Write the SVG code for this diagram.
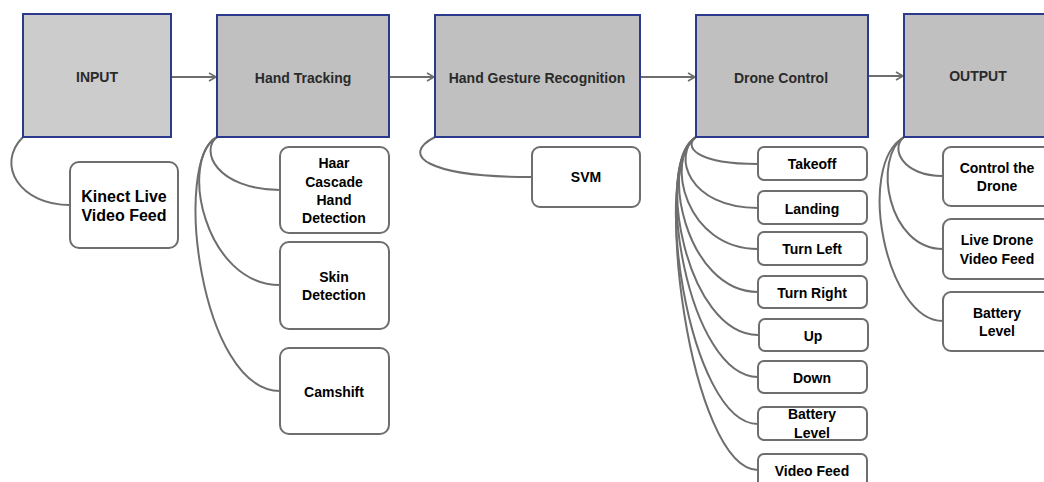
<svg xmlns="http://www.w3.org/2000/svg" width="1044" height="482" viewBox="0 0 1044 482">
<style>
.main{stroke:#2b3a8c;stroke-width:2}
.sub{fill:#fff;stroke:#6e6e6e;stroke-width:2}
.mt{font-family:"Liberation Sans",Arial,sans-serif;font-size:14px;font-weight:bold;fill:#2a2a2a;text-anchor:middle}
.st{font-family:"Liberation Sans",Arial,sans-serif;font-size:14px;font-weight:bold;fill:#000;text-anchor:middle}
.big{font-size:16px}
.c{fill:none;stroke:#6e6e6e;stroke-width:2}
</style>
<defs>
<marker id="arr" markerWidth="10" markerHeight="10" refX="8" refY="5" orient="auto" markerUnits="userSpaceOnUse">
<path d="M1,1 L8,5 L1,9" fill="none" stroke="#6e6e6e" stroke-width="1.6"/>
</marker>
</defs>
<rect width="1044" height="482" fill="#fff"/>
<g id="connectors">
<path class="c" d="M171,77 L216,77" marker-end="url(#arr)"/>
<path class="c" d="M389,77 L434,77" marker-end="url(#arr)"/>
<path class="c" d="M640,77 L695,77" marker-end="url(#arr)"/>
<path class="c" d="M868,76 L903,76" marker-end="url(#arr)"/>
<path class="c" d="M23,137 C-5,165 20,205 70,205"/>
<path class="c" d="M217,137 C200,150 215,189 280,190"/>
<path class="c" d="M217,137 C178,160 205,285 280,285"/>
<path class="c" d="M217,137 C172,160 200,391 280,391"/>
<path class="c" d="M435,137 C400,155 425,177 532,177"/>
<path class="c" d="M696,137 C684,146 694,164 758,164"/>
<path class="c" d="M696,137 C672,155 688,208 758,208"/>
<path class="c" d="M696,137 C664,160 686,249 758,249"/>
<path class="c" d="M696,137 C658,162 686,292 758,292"/>
<path class="c" d="M696,137 C654,163 686,335 758,335"/>
<path class="c" d="M696,137 C652,164 688,377 758,377"/>
<path class="c" d="M696,137 C650,165 688,424 758,424"/>
<path class="c" d="M696,137 C650,165 690,470 758,470"/>
<path class="c" d="M904,137 C890,148 902,176 943,176"/>
<path class="c" d="M904,137 C872,158 888,249 943,249"/>
<path class="c" d="M904,137 C855,165 886,321 943,321"/>
</g>
<g id="input"><rect class="main" x="23" y="14" width="148" height="123" fill="#cccccc"/><text class="mt" x="97" y="82">INPUT</text></g>
<g id="hand-tracking"><rect class="main" x="217" y="15" width="172" height="122" fill="#c0c0c0"/><text class="mt" x="303" y="83">Hand Tracking</text></g>
<g id="hand-gesture"><rect class="main" x="435" y="15" width="205" height="122" fill="#c0c0c0"/><text class="mt" x="537" y="83">Hand Gesture Recognition</text></g>
<g id="drone-control"><rect class="main" x="696" y="15" width="172" height="122" fill="#c0c0c0"/><text class="mt" x="781" y="83">Drone Control</text></g>
<g id="output"><rect class="main" x="904" y="14" width="172" height="123" fill="#c0c0c0"/><text class="mt" x="978" y="81">OUTPUT</text></g>
<g id="kinect"><rect class="sub" x="70" y="162" width="108" height="86" rx="9"/><text class="st big" x="124" y="202">Kinect Live</text><text class="st big" x="124" y="221">Video Feed</text></g>
<g id="haar"><rect class="sub" x="280" y="147" width="109" height="86" rx="9"/><text class="st" x="334" y="168">Haar</text><text class="st" x="334" y="187">Cascade</text><text class="st" x="334" y="205">Hand</text><text class="st" x="334" y="223">Detection</text></g>
<g id="skin"><rect class="sub" x="280" y="242" width="109" height="87" rx="9"/><text class="st" x="334" y="282">Skin</text><text class="st" x="334" y="300">Detection</text></g>
<g id="camshift"><rect class="sub" x="280" y="348" width="109" height="86" rx="9"/><text class="st" x="334" y="397">Camshift</text></g>
<g id="svm"><rect class="sub" x="532" y="147" width="108" height="60" rx="8"/><text class="st" x="586" y="182">SVM</text></g>
<g id="takeoff"><rect class="sub" x="758" y="147" width="109" height="33" rx="6"/><text class="st" x="812" y="169">Takeoff</text></g>
<g id="landing"><rect class="sub" x="758" y="191" width="109" height="33" rx="6"/><text class="st" x="812" y="214">Landing</text></g>
<g id="turn-left"><rect class="sub" x="758" y="232" width="109" height="33" rx="6"/><text class="st" x="812" y="254">Turn Left</text></g>
<g id="turn-right"><rect class="sub" x="758" y="276" width="109" height="32" rx="6"/><text class="st" x="812" y="298">Turn Right</text></g>
<g id="up"><rect class="sub" x="759" y="319" width="109" height="32" rx="6"/><text class="st" x="813" y="341">Up</text></g>
<g id="down"><rect class="sub" x="758" y="361" width="109" height="32" rx="6"/><text class="st" x="812" y="383">Down</text></g>
<g id="battery-dc"><rect class="sub" x="758" y="407" width="109" height="33" rx="6"/><text class="st" x="812" y="419">Battery</text><text class="st" x="812" y="438">Level</text></g>
<g id="video-feed"><rect class="sub" x="758" y="454" width="109" height="36" rx="6"/><text class="st" x="812" y="476">Video Feed</text></g>
<g id="control-drone"><rect class="sub" x="943" y="147" width="108" height="59" rx="8"/><text class="st" x="997" y="173">Control the</text><text class="st" x="997" y="191">Drone</text></g>
<g id="live-drone"><rect class="sub" x="943" y="219" width="108" height="60" rx="8"/><text class="st" x="997" y="245">Live Drone</text><text class="st" x="997" y="264">Video Feed</text></g>
<g id="battery-out"><rect class="sub" x="943" y="292" width="108" height="59" rx="8"/><text class="st" x="997" y="318">Battery</text><text class="st" x="997" y="336">Level</text></g>
</svg>
